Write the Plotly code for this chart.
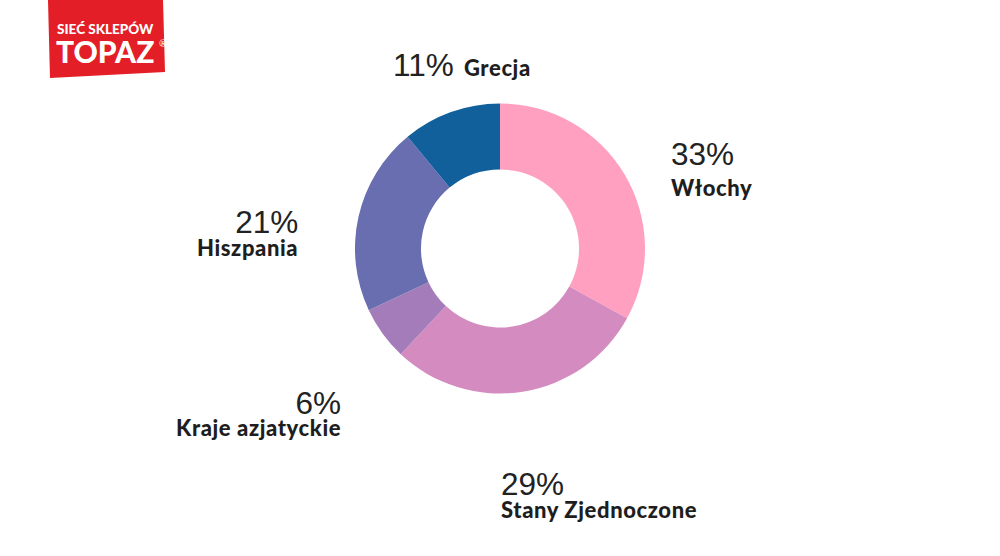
import plotly.graph_objects as go

# ---- data ----
countries = ["Włochy", "Stany Zjednoczone", "Kraje azjatyckie", "Hiszpania", "Grecja"]
shares = [33, 29, 6, 21, 11]
colors = ["#FFA0C0", "#D48BBF", "#A47CBA", "#686EAF", "#12609B"]

W, H = 1000, 556

def px(x):
    return x / W

def py(y):
    return 1 - y / H

fig = go.Figure()
fig.add_trace(go.Pie(
    labels=countries,
    values=shares,
    sort=False,
    direction="clockwise",
    rotation=0,
    hole=0.545,
    marker=dict(colors=colors, line=dict(width=0)),
    textinfo="none",
    hoverinfo="label+percent",
    showlegend=False,
    domain=dict(x=[px(355), px(645)], y=[py(393.5), py(103.5)]),
))

PCT = "font-family:Liberation Sans, Arial;font-size:31.5px;color:#222222"
NAME = "font-family:Lato;font-size:22px;font-weight:900;letter-spacing:0.6px;color:#1e1e1e"

# label layout: (x, y centre, anchor, line spacing base size, single line?)
label_pos = [
    (669, 168, "left", 23.8, False),
    (499, 494.5, "left", 17.7, False),
    (343, 413, "right", 16.9, False),
    (300, 232.5, "right", 17.7, False),
    (391, 65, "left", 20, True),
]

annotations = []
for name, val, (x, y, anc, base, single) in zip(countries, shares, label_pos):
    sep = "&nbsp;&nbsp;" if single else "<br>"
    text = f"<span style='{PCT}'>{val}%</span>{sep}<span style='{NAME}'>{name}</span>"
    annotations.append(dict(
        x=px(x), y=py(y), xref="paper", yref="paper",
        text=text, showarrow=False, xanchor=anc, yanchor="middle", align=anc,
        font=dict(family="Lato", size=base, color="#1e1e1e"),
    ))

# logo texts
annotations += [
    dict(x=px(105), y=py(45), xref="paper", yref="paper",
         text="<span style='font-size:13.5px'>SIEĆ SKLEPÓW</span><br><span style='font-size:30px'>TOPAZ</span>",
         showarrow=False, xanchor="center", yanchor="middle", align="center",
         font=dict(family="Lato", size=22, color="white", weight=900)),
    dict(x=px(163), y=py(43), xref="paper", yref="paper", text="®",
         showarrow=False, xanchor="center", yanchor="middle",
         font=dict(family="Lato", size=10, color="white")),
]

logo_path = "M {} {} L {} {} L {} {} L {} {} Z".format(
    px(48), py(0), px(163), py(0), px(165), py(72), px(50), py(78))

fig.update_layout(
    width=W, height=H,
    margin=dict(l=0, r=0, t=0, b=0),
    paper_bgcolor="white",
    plot_bgcolor="white",
    annotations=annotations,
    shapes=[dict(type="path", path=logo_path, xref="paper", yref="paper",
                 fillcolor="#E31E26", line=dict(width=0), layer="below")],
)

fig.write_html("out.html", config={"displayModeBar": False},
               post_script="document.body.style.margin='0';document.body.style.overflow='hidden';")
